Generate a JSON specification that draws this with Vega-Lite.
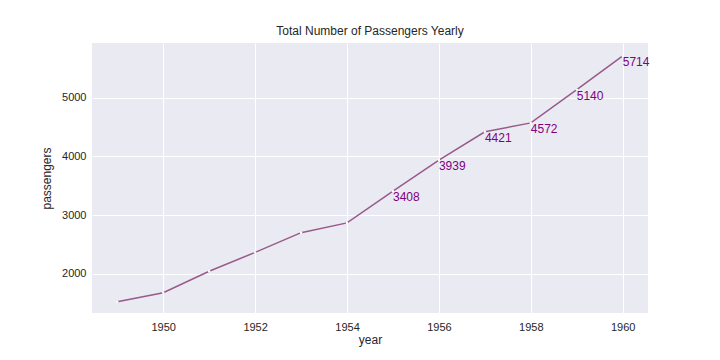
{
  "$schema": "https://vega.github.io/schema/vega-lite/v6.json",
  "width": 556,
  "height": 270,
  "autosize": {"type": "none"},
  "padding": {"left": 92, "top": 43, "right": 72, "bottom": 47},
  "background": "white",
  "config": {
    "font": "Liberation Sans",
    "view": {"fill": "#EAEAF2", "stroke": null},
    "axis": {
      "domain": false,
      "ticks": false,
      "gridColor": "white",
      "gridWidth": 1,
      "labelColor": "#262626",
      "titleColor": "#262626",
      "labelFont": "Liberation Sans",
      "titleFont": "Liberation Sans",
      "labelFontSize": 11,
      "titleFontSize": 12,
      "titleFontWeight": "normal"
    },
    "title": {"font": "Liberation Sans", "fontSize": 12, "fontWeight": "normal", "color": "#262626"}
  },
  "title": {"text": "Total Number of Passengers Yearly", "offset": 5},
  "data": {
    "values": [
      {"year": 1949, "passengers": 1520, "label": ""},
      {"year": 1950, "passengers": 1676, "label": ""},
      {"year": 1951, "passengers": 2042, "label": ""},
      {"year": 1952, "passengers": 2364, "label": ""},
      {"year": 1953, "passengers": 2700, "label": ""},
      {"year": 1954, "passengers": 2867, "label": ""},
      {"year": 1955, "passengers": 3408, "label": "3408"},
      {"year": 1956, "passengers": 3939, "label": "3939"},
      {"year": 1957, "passengers": 4421, "label": "4421"},
      {"year": 1958, "passengers": 4572, "label": "4572"},
      {"year": 1959, "passengers": 5140, "label": "5140"},
      {"year": 1960, "passengers": 5714, "label": "5714"}
    ]
  },
  "encoding": {
    "x": {
      "field": "year", "type": "quantitative",
      "scale": {"domain": [1948.45, 1960.55], "nice": false, "zero": false},
      "axis": {"values": [1950, 1952, 1954, 1956, 1958, 1960], "format": "d", "labelPadding": 8, "titlePadding": 2, "title": "year"}
    },
    "y": {
      "field": "passengers", "type": "quantitative",
      "scale": {"domain": [1330, 5935], "nice": false, "zero": false},
      "axis": {"values": [2000, 3000, 4000, 5000], "format": "d", "labelPadding": 6, "titlePadding": 8, "title": "passengers"}
    }
  },
  "layer": [
    {"mark": {"type": "line", "color": "#985A8A", "strokeWidth": 1.5}},
    {"mark": {"type": "point", "filled": true, "color": "white", "size": 6, "opacity": 1}},
    {"mark": {"type": "text", "align": "left", "baseline": "top", "dx": 0, "dy": 1, "fontSize": 12, "color": "#800080", "font": "Liberation Sans"},
     "encoding": {"text": {"field": "label"}}}
  ]
}
